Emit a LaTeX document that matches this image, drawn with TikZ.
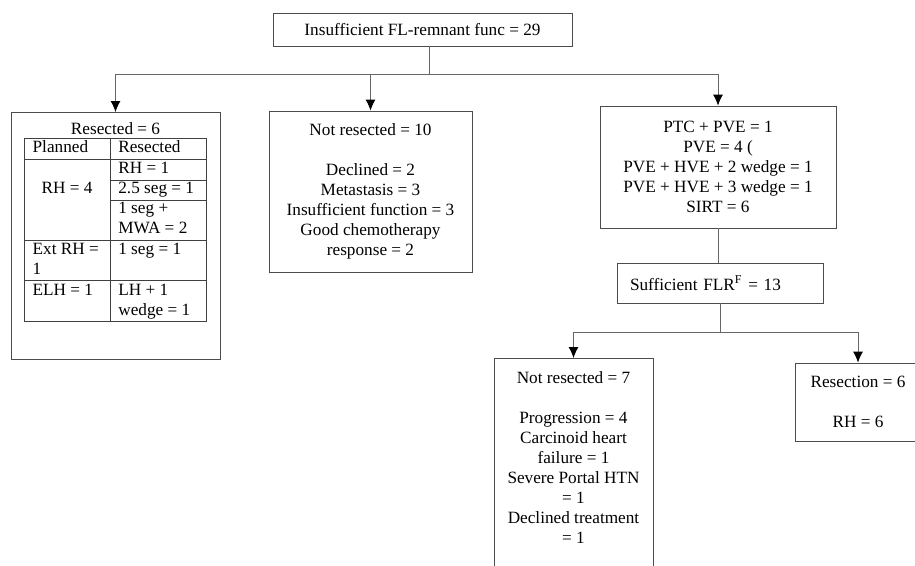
\documentclass[tikz,border=0pt]{standalone}
\usepackage{fontspec}
\setmainfont{Liberation Serif}
\usepackage{array}
\usepackage{multirow}
\usepackage{colortbl}
\usetikzlibrary{arrows.meta}

\begin{document}
\begin{tikzpicture}[x=0.02cm, y=-0.02cm,
    font=\fontsize{9.8pt}{11.4pt}\selectfont,
    box/.style={draw=black!70, line width=0.5pt, rectangle, align=center, inner sep=0pt},
    conn/.style={draw=black!60, line width=0.5pt},
    arrow/.style={conn, -{Latex[length=2.2mm, width=2mm, color=black]}}]
    \useasboundingbox (0,0) rectangle (915,565);

    % Nodo iniziale
    \node[box, minimum width=5.98cm, minimum height=0.66cm] at (422.5, 29.5) (insuff) {Insufficient FL-remnant func = 29};

    % Rettangolo resecati con tabella
    \node[box, anchor=north, inner ysep=0.2cm] at (115.5, 112) (resected) {\parbox[t][4.54cm][t]{4.18cm}{\centering Resected = 6\\[1pt]
        \arrayrulecolor{black!75}\setlength{\tabcolsep}{0.16cm}%
        \begin{tabular}{|>{\raggedright\arraybackslash}p{1.38cm}|>{\raggedright\arraybackslash}p{1.6cm}|}
        \hline
        Planned & Resected \\ \hline
        \multirow{3}{1.38cm}{\centering RH = 4} & RH = 1 \\ \cline{2-2}
         & 2.5 seg = 1 \\ \cline{2-2}
         & 1 seg + MWA = 2 \\ \hline
        Ext RH = 1 & 1 seg = 1 \\ \hline
        ELH = 1 & LH + 1 wedge = 1 \\ \hline
        \end{tabular}}};

    % Rettangolo non resecati
    \node[box, minimum width=4.06cm, minimum height=3.22cm] at (370.5, 191.5) (notres) {Not resected = 10\\[\baselineskip]Declined = 2\\Metastasis = 3\\Insufficient function = 3\\Good chemotherapy\\response = 2};

    % Rettangolo PVE
    \node[box, minimum width=4.72cm, minimum height=2.44cm] at (718, 167) (ptc) {PTC + PVE = 1\\PVE = 4 (\\PVE + HVE + 2 wedge = 1\\PVE + HVE + 3 wedge = 1\\SIRT = 6};

    % Rettangolo FLR sufficiente
    \node[box, minimum width=4.12cm, minimum height=0.8cm, align=left, text width=3.6cm, inner xsep=0.26cm] at (720, 283) (suff) {Sufficient FLR\textsuperscript{F} = 13};

    % Rettangolo non resecati (secondo)
    \node[box, anchor=north, inner ysep=0.26cm] at (573.5, 358) (notres2) {\parbox[t][4.08cm][t]{3.18cm}{\centering Not resected = 7\\[\baselineskip]
        Progression = 4\\ Carcinoid heart\\ failure = 1\\ Severe Portal HTN\\ = 1\\ Declined treatment\\ = 1}};

    % Rettangolo resezione
    \node[box, minimum width=2.52cm, minimum height=1.56cm] at (858, 402) (resect2) {Resection = 6\\[\baselineskip]RH = 6};

    % Punti di diramazione
    \coordinate (split) at (429, 74);
    \coordinate (split2) at (720, 332);

    % Frecce
    \draw[conn] (insuff.south -| split) -- (split);
    \draw[arrow] (split) -| (resected.north);
    \draw[arrow] (split) -| (notres.north);
    \draw[arrow] (split) -| (ptc.north);
    \draw[conn] (ptc.south) -- (ptc.south |- suff.north);
    \draw[conn] (suff.south) -- (split2);
    \draw[arrow] (split2) -| (notres2.north);
    \draw[arrow] (split2) -| (resect2.north);
\end{tikzpicture}
\end{document}
